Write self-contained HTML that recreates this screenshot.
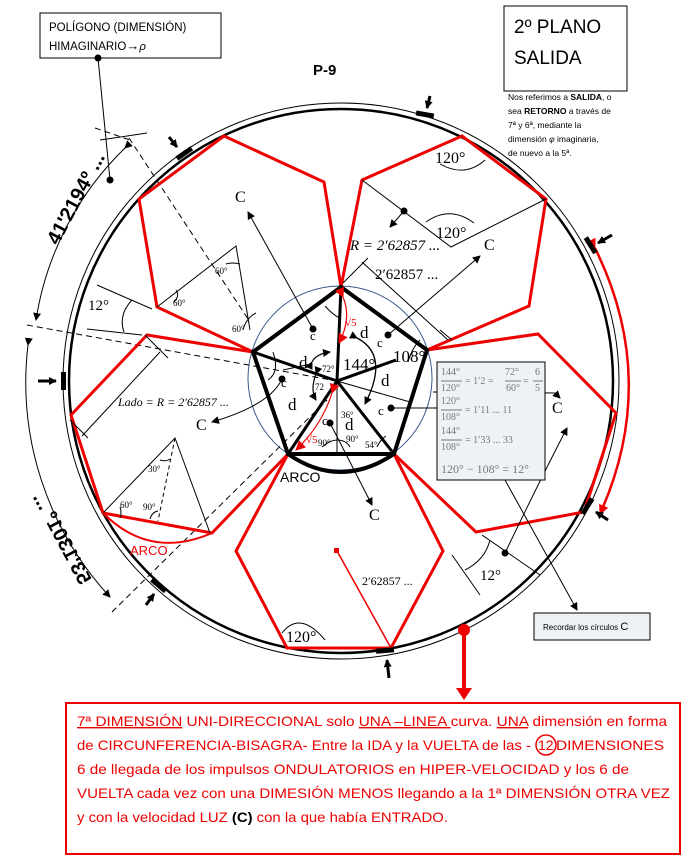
<!DOCTYPE html>
<html><head><meta charset="utf-8"><style>
body{margin:0;background:#fff}
svg{display:block}
.s{font-family:"Liberation Serif",serif}
.a{font-family:"Liberation Sans",sans-serif}
</style></head><body>
<svg width="690" height="865" viewBox="0 0 690 865" xmlns="http://www.w3.org/2000/svg">
<defs>
<marker id="ar" markerWidth="8" markerHeight="8" refX="7" refY="4" orient="auto" markerUnits="userSpaceOnUse"><path d="M0,0 L8,4 L0,8 z" fill="#000"/></marker>
<marker id="arr" markerWidth="10" markerHeight="10" refX="9" refY="5" orient="auto" markerUnits="userSpaceOnUse"><path d="M0,0 L10,5 L0,10 z" fill="#e00"/></marker>
</defs>

<!-- top left box -->
<rect x="40" y="13" width="181" height="45" fill="#fff" stroke="#000"/>
<text x="49" y="31" class="a" font-size="11.5" fill="#000">POLÍGONO (DIMENSIÓN)</text>
<text x="49" y="50" class="a" font-size="11.5" fill="#000">HIMAGINARIO<tspan font-size="13">→</tspan><tspan font-style="italic">ρ</tspan></text>
<circle cx="98" cy="58" r="3.5"/>
<line x1="98" y1="58" x2="110" y2="180" stroke="#000"/>
<circle cx="110" cy="180" r="3.5"/>

<!-- top right box -->
<rect x="504" y="6" width="123" height="85" fill="#fff" stroke="#000"/>
<text x="514" y="33" class="a" font-size="19">2º PLANO</text>
<text x="514" y="64" class="a" font-size="19">SALIDA</text>
<g class="a" font-size="8.5">
<text x="508" y="100">Nos referimos a <tspan font-weight="bold">SALIDA</tspan>, o</text>
<text x="508" y="114">sea <tspan font-weight="bold">RETORNO</tspan> a través de</text>
<text x="508" y="128">7ª y 6ª, mediante la</text>
<text x="508" y="142">dimensión <tspan font-style="italic">φ</tspan> imaginaria,</text>
<text x="508" y="156">de nuevo a la 5ª.</text>
</g>
<text x="313" y="75" class="a" font-size="15" font-weight="bold">P-9</text>

<!-- circles -->
<circle cx="341" cy="381" r="278" fill="none" stroke="#000" stroke-width="1"/>
<circle cx="341" cy="381" r="272" fill="none" stroke="#000" stroke-width="2.5"/>
<circle cx="340" cy="378" r="92" fill="none" stroke="#3a5a8a" stroke-width="1"/>

<!-- left outer dimension arcs -->
<path d="M125,148 A305,305 0 0 0 36,320" fill="none" stroke="#000" marker-end="url(#ar)" marker-start="url(#ar)"/>
<path d="M28,345 A316,316 0 0 0 110,597" fill="none" stroke="#000" marker-end="url(#ar)" marker-start="url(#ar)"/>
<text transform="translate(58,246) rotate(-62)" class="a" font-size="20" font-weight="bold">41'2194º ...</text>
<text transform="translate(80,586) rotate(-118) scale(1,-1)" class="a" font-size="20" font-weight="bold">53'1301º ...</text>

<!-- dashed lines -->
<g stroke="#000" stroke-dasharray="6,4" fill="none">
<line x1="27" y1="325" x2="337" y2="381"/>
<line x1="129" y1="138" x2="250" y2="322"/>
<line x1="112" y1="612" x2="327" y2="400"/>
<line x1="95" y1="128" x2="130" y2="140"/>
</g>
<line x1="100" y1="140" x2="147" y2="133" stroke="#000"/>

<!-- red shapes -->
<g fill="none" stroke="#e00" stroke-width="3" stroke-linejoin="miter">
<polyline points="341,287 324,182 224,136 139,199 157,307 253,352"/>
<polyline points="341,287 362,180 462,136 546,199 529,306 427,350"/>
<polyline points="427,350 538,334 616,413 584,512 476,532 394,454"/>
<polyline points="394,454 443,551 391,648 287,648 236,551 288,454"/>
<polyline points="288,454 212,533 103,513 71,415 147,335 253,352"/>
<path d="M103,513 Q150,560 212,533" stroke-width="2"/>
</g>
<text x="130" y="555" class="a" font-size="13" fill="#e00">ARCO</text>

<!-- red right arc arrow -->
<path d="M595,248 Q660,380 600,514" fill="none" stroke="#e00" stroke-width="2.5" marker-end="url(#arr)" marker-start="url(#arr)"/>
<!-- red down line -->
<circle cx="464" cy="630" r="6" fill="#e00"/>
<line x1="464" y1="630" x2="464" y2="690" stroke="#e00" stroke-width="4"/>
<path d="M456,688 L472,688 L464,700 z" fill="#e00"/>
<!-- red bottom radius -->
<line x1="337" y1="551" x2="391" y2="648" stroke="#e00" stroke-width="1.5"/>
<rect x="334" y="548" width="5" height="5" fill="#e00"/>
<text x="362" y="585" class="s" font-size="12">2′62857 ...</text>

<!-- central pentagon -->
<g stroke="#000" fill="none">
<polygon points="341,287 427,350 394,454 288,454 253,352" stroke-width="4"/>
<line x1="337" y1="381" x2="341" y2="287" stroke-width="3"/>
<line x1="337" y1="381" x2="253" y2="352" stroke-width="3"/>
<line x1="337" y1="381" x2="288" y2="454" stroke-width="3"/>
<line x1="337" y1="381" x2="394" y2="454" stroke-width="3"/>
<line x1="337" y1="381" x2="396" y2="360" stroke-width="3"/>
<line x1="337" y1="381" x2="337" y2="454" stroke-width="1"/>
<line x1="337" y1="381" x2="410" y2="402" stroke-width="1"/>
<line x1="283" y1="370" x2="311" y2="364" stroke-width="1"/>
<path d="M288,454 Q340,490 394,454" stroke-width="4"/>
<path d="M325,306 Q335,317 341,318" stroke-width="1"/>
<path d="M273,352 Q280,372 268,380" stroke-width="1"/>
<path d="M408,362 Q412,348 420,340" stroke-width="1"/>
<path d="M322,447 Q330,440 337,440 Q346,440 350,447" stroke-width="1"/>
<path d="M377,447 Q380,440 386,436" stroke-width="1"/>
<path d="M357,338 Q390,355 365,404" stroke-width="1.3" marker-start="url(#ar)" marker-end="url(#ar)"/>
<path d="M312,362 Q316,354 330,352" stroke-width="1.2" marker-start="url(#ar)" marker-end="url(#ar)"/>
<path d="M316,374 Q310,390 316,400" stroke-width="1.2" marker-start="url(#ar)" marker-end="url(#ar)"/>
</g>
<path d="M343,297 Q352,318 339,343" fill="none" stroke="#e00" stroke-width="1.2" marker-start="url(#arr)" marker-end="url(#arr)"/>
<path d="M332,393 Q322,425 296,450" fill="none" stroke="#e00" stroke-width="1.2" marker-start="url(#arr)" marker-end="url(#arr)"/>
<g class="s" font-size="17">
<text x="343" y="370">144°</text>
<text x="393" y="362">108°</text>
<text x="299" y="368">d</text><text x="360" y="338">d</text><text x="381" y="386">d</text><text x="288" y="410">d</text><text x="345" y="430">d</text>
</g>
<g class="s" font-size="13">
<text x="310" y="340">c</text><text x="281" y="387">c</text><text x="377" y="347">c</text><text x="378" y="415">c</text><text x="322" y="425">c</text>
</g>
<g font-size="9" class="s">
<text x="322" y="372">72°</text><text x="315" y="390">72</text><text x="341" y="418">36°</text>
<text x="318" y="446">90°</text><text x="346" y="442">90°</text><text x="365" y="448">54°</text>
</g>
<text x="345" y="326" class="s" font-size="11" fill="#e00">√5</text>
<text x="306" y="443" class="s" font-size="11" fill="#e00">√5</text>
<text x="280" y="482" class="a" font-size="14">ARCO</text>
<g fill="#000"><circle cx="313" cy="329" r="3.5"/><circle cx="388" cy="335" r="3.5"/><circle cx="282" cy="379" r="3.5"/><circle cx="391" cy="408" r="3.5"/><circle cx="330" cy="423" r="3.5"/></g>

<!-- C arrows -->
<g stroke="#000" fill="none" marker-end="url(#ar)">
<line x1="313" y1="329" x2="248" y2="212"/>
<line x1="388" y1="335" x2="480" y2="256"/>
<path d="M282,379 Q270,405 212,422"/>
<line x1="330" y1="423" x2="372" y2="505"/>
<path d="M433,392 L555,393 L560,398"/>
<path d="M505,553 Q540,480 567,428"/>
<line x1="505" y1="480" x2="577" y2="610"/>
</g>
<circle cx="505" cy="553" r="3.5"/>
<line x1="391" y1="408" x2="437" y2="408" stroke="#000"/>
<g class="s" font-size="16">
<text x="235" y="202">C</text><text x="484" y="250">C</text><text x="196" y="430">C</text><text x="369" y="520">C</text><text x="552" y="413">C</text>
</g>

<!-- top-right annotations -->
<g stroke="#000" fill="none" stroke-width="1">
<polyline points="362,180 451,247 546,199"/>
<path d="M426,222 Q450,205 474,223"/>
<path d="M440,164 Q465,178 485,160"/>
<line x1="404" y1="211" x2="390" y2="227" marker-end="url(#ar)"/>
<line x1="343" y1="283" x2="368" y2="258"/>
<line x1="362" y1="262" x2="448" y2="340"/>
<line x1="440" y1="330" x2="452" y2="340"/>
</g>
<circle cx="404" cy="211" r="3.5"/>
<text x="350" y="250" class="s" font-size="15" font-style="italic">R = 2′62857 ...</text>
<text x="375" y="279" class="s" font-size="15">2′62857 ...</text>
<text x="435" y="163" class="s" font-size="16">120°</text>
<text x="436" y="238" class="s" font-size="16">120°</text>

<!-- left annotations -->
<g stroke="#000" fill="none" stroke-width="1">
<polyline points="157,307 236,246 250,330"/>
<path d="M174,302 Q180,296 176,290"/>
<path d="M226,264 Q232,262 240,264"/>
<path d="M243,330 Q246,318 256,313"/>
<line x1="97" y1="285" x2="152" y2="309"/>
<line x1="87" y1="329" x2="142" y2="335"/>
<path d="M132,300 Q118,315 124,332"/>
<line x1="145" y1="335" x2="168" y2="358"/>
<line x1="82" y1="436" x2="160" y2="352"/>
<line x1="70" y1="420" x2="88" y2="438"/>
<polyline points="103,513 175,438 210,533"/>
<line x1="175" y1="438" x2="158" y2="521" stroke-dasharray="4,3"/>
<path d="M120,507 Q122,513 120,518"/>
<path d="M150,519 Q152,512 158,511"/>
<path d="M160,460 Q166,462 170,459"/>
</g>
<text x="88" y="310" class="s" font-size="15">12°</text>
<text x="215" y="274" class="s" font-size="9">60°</text>
<text x="173" y="306" class="s" font-size="9">60°</text>
<text x="232" y="332" class="s" font-size="9">60°</text>
<text x="148" y="472" class="s" font-size="9">30°</text>
<text x="120" y="508" class="s" font-size="9">60°</text>
<text x="143" y="510" class="s" font-size="9">90°</text>
<text x="118" y="406" class="s" font-size="12" font-style="italic">Lado = R = 2′62857 ...</text>

<!-- 12 degrees bottom right -->
<g stroke="#000" fill="none">
<line x1="482" y1="535" x2="540" y2="575"/>
<line x1="452" y1="555" x2="480" y2="595"/>
<path d="M490,540 Q485,560 465,570"/>
</g>
<text x="480" y="580" class="s" font-size="15">12°</text>
<!-- bottom 120 -->
<path d="M282,633 Q300,610 325,640" fill="none" stroke="#000"/>
<text x="286" y="642" class="s" font-size="16">120°</text>

<!-- equation box -->
<rect x="437" y="362" width="108" height="118" fill="#eef2f7" stroke="#000"/>
<g class="s" font-size="10" fill="#777">
<text x="441" y="375">144°</text><text x="441" y="391">120°</text><line x1="441" y1="381" x2="462" y2="381" stroke="#777"/>
<text x="465" y="384">= 1′2 =</text><text x="505" y="375">72°</text><text x="506" y="391">60°</text><line x1="505" y1="381" x2="521" y2="381" stroke="#777"/>
<text x="523" y="384">=</text><text x="535" y="375">6</text><text x="535" y="391">5</text><line x1="533" y1="381" x2="543" y2="381" stroke="#777"/>
<text x="441" y="404">120°</text><text x="441" y="420">108°</text><line x1="441" y1="410" x2="462" y2="410" stroke="#777"/><text x="465" y="413">= 1′11 ... 11</text>
<text x="441" y="434">144°</text><text x="441" y="450">108°</text><line x1="441" y1="440" x2="462" y2="440" stroke="#777"/><text x="465" y="443">= 1′33 ... 33</text>
<text x="441" y="473" font-size="12">120° − 108° =  12°</text>
</g>

<!-- recordar box -->
<rect x="534" y="613" width="116" height="27" fill="#eef2f7" stroke="#000"/>
<text x="543" y="630" class="a" font-size="8">Recordar los círculos <tspan font-size="11">C</tspan></text>

<!-- markers on circle -->
<g fill="#000">
<rect x="416" y="112" width="18" height="5" transform="rotate(10 425 114)"/>
<rect x="175" y="151" width="18" height="5" transform="rotate(-35 184 153)"/>
<rect x="582" y="243" width="18" height="5" transform="rotate(58 591 245)"/>
<rect x="578" y="504" width="18" height="5" transform="rotate(-58 587 506)"/>
<rect x="376" y="648" width="18" height="5" transform="rotate(-5 385 650)"/>
<rect x="150" y="583" width="18" height="5" transform="rotate(40 159 585)"/>
<rect x="61" y="372" width="5" height="18"/>
</g>
<g stroke="#000" stroke-width="3" fill="none" marker-end="url(#ar)">
<line x1="430" y1="96" x2="427" y2="108"/>
<line x1="169" y1="137" x2="177" y2="147"/>
<line x1="612" y1="235" x2="598" y2="243"/>
<line x1="608" y1="520" x2="596" y2="512"/>
<line x1="389" y1="678" x2="387" y2="660"/>
<line x1="146" y1="605" x2="154" y2="594"/>
<line x1="38" y1="381" x2="56" y2="381"/>
</g>

<!-- bottom text box -->
<rect x="66" y="703" width="614" height="151" fill="#fff" stroke="#e00" stroke-width="2"/>
<g class="a" font-size="14" fill="#e00">
<text x="77" y="726" textLength="590" lengthAdjust="spacingAndGlyphs"><tspan text-decoration="underline">7ª DIMENSIÓN</tspan>  UNI-DIRECCIONAL  solo <tspan text-decoration="underline">UNA –LINEA </tspan>curva. <tspan text-decoration="underline">UNA</tspan> dimensión en forma</text>
<text x="77" y="750" textLength="454" lengthAdjust="spacingAndGlyphs">de CIRCUNFERENCIA-BISAGRA-  Entre la IDA y la VUELTA de las  -</text>
<text x="538" y="750">12</text>
<text x="556" y="750" textLength="108" lengthAdjust="spacingAndGlyphs">DIMENSIONES</text>
<text x="77" y="774" textLength="552" lengthAdjust="spacingAndGlyphs">6 de llegada  de los impulsos ONDULATORIOS  en HIPER-VELOCIDAD  y los  6  de</text>
<text x="77" y="798" textLength="593" lengthAdjust="spacingAndGlyphs">VUELTA cada vez con una DIMESIÓN  MENOS llegando a la 1ª DIMENSIÓN  OTRA  VEZ</text>
<text x="77" y="822" textLength="371" lengthAdjust="spacingAndGlyphs">y con la velocidad  LUZ <tspan fill="#000" font-weight="bold">(C)</tspan> con la que había ENTRADO.</text>
</g>
<circle cx="546" cy="745" r="10" fill="none" stroke="#e00" stroke-width="1.5"/>
</svg>
</body></html>
